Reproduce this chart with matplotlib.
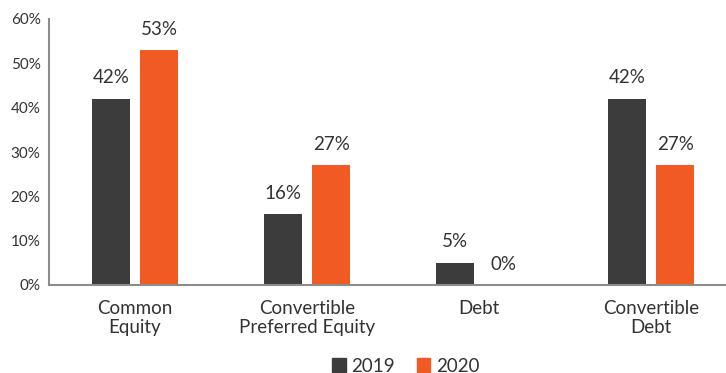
import matplotlib
matplotlib.use("Agg")
import matplotlib.pyplot as plt
import numpy as np
from matplotlib.patches import Patch

categories = ["Common\nEquity", "Convertible\nPreferred Equity", "Debt", "Convertible\nDebt"]
series_names = ["2019", "2020"]
values_2019 = [42, 16, 5, 42]
values_2020 = [53, 27, 0, 27]
yticks = [0, 10, 20, 30, 40, 50, 60]
colors = ["#3c3c3c", "#f15a22"]

plt.rcParams['font.family'] = ['Lato', 'DejaVu Sans']
text_color = "#333333"

fig = plt.figure(figsize=(7.26, 3.73), dpi=100)
ax = fig.add_axes([49/726, 88/373, 1 - 49/726, (285-19)/373])

x = np.arange(len(categories))
w = 0.222
off = 0.141
for vals, o, c in [(values_2019, -off, colors[0]), (values_2020, off, colors[1])]:
    bars = ax.bar(x + o, vals, width=w, color=c)
    for b, v in zip(bars, vals):
        ax.annotate(f"{v}%", (b.get_x() + b.get_width()/2, v), xytext=(0, 9),
                    textcoords="offset points", ha="center", va="bottom",
                    fontsize=13.5, color=text_color)

ax.set_xlim(-0.5, 3.436)
ax.set_ylim(0, 60)
ax.set_yticks(yticks)
ax.set_yticklabels([f"{t}%" for t in yticks], fontsize=11, color=text_color)
ax.set_xticks(x)
ax.set_xticklabels(categories, fontsize=13.5, color=text_color, linespacing=1.15)
ax.tick_params(axis="both", length=0)
ax.tick_params(axis="y", pad=6)
ax.tick_params(axis="x", pad=11)
for s in ["top", "right"]:
    ax.spines[s].set_visible(False)
for s in ["left", "bottom"]:
    ax.spines[s].set_color("#8c8c8c")
    ax.spines[s].set_linewidth(1.5)

handles = [Patch(color=c, label=n) for c, n in zip(colors, series_names)]
fig.legend(handles=handles, loc="center", bbox_to_anchor=(406/726, 1 - 366/373),
           ncol=2, frameon=False, fontsize=13.5, handlelength=0.7, handleheight=0.7,
           handletextpad=0.3, columnspacing=1.2, labelcolor=text_color)

fig.savefig("out.png", dpi=100)
